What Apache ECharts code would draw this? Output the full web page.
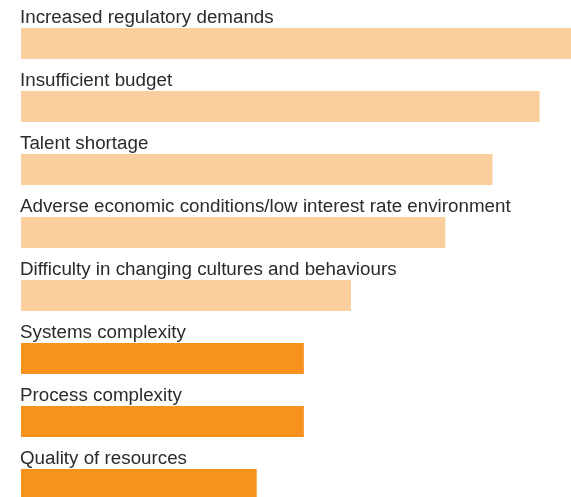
<!DOCTYPE html>
<html>
<head>
<meta charset="utf-8">
<script src="https://cdn.jsdelivr.net/npm/echarts@6/dist/echarts.min.js"></script>
<style>
html,body{margin:0;padding:0;background:#fff;}
#chart{width:571px;height:497px;}
</style>
</head>
<body>
<div id="chart"></div>
<script>
const categories = [
  "Increased regulatory demands",
  "Insufficient budget",
  "Talent shortage",
  "Adverse economic conditions/low interest rate environment",
  "Difficulty in changing cultures and behaviours",
  "Systems complexity",
  "Process complexity",
  "Quality of resources"
];
const values = [35, 33, 30, 27, 21, 18, 18, 15];
const highlighted = [false, false, false, false, false, true, true, true];
const lightColor = "#FBCE9E";
const darkColor = "#F7921F";

const chart = echarts.init(document.getElementById('chart'), null, {renderer: 'canvas'});
chart.setOption({
  animation: false,
  grid: {left: 21, right: 0, top: 12, bottom: -19, containLabel: false, outerBoundsMode: 'none'},
  xAxis: {type: 'value', min: 0, max: 35, show: false},
  yAxis: {type: 'category', data: categories, inverse: true, show: false},
  series: [{
    type: 'bar',
    barWidth: 31,
    data: values.map((v, i) => ({value: v, itemStyle: {color: highlighted[i] ? darkColor : lightColor}})),
    label: {
      show: true,
      formatter: '{b}',
      position: [-1, -1],
      verticalAlign: 'bottom',
      align: 'left',
      fontFamily: 'Liberation Sans, Arial, sans-serif',
      fontSize: 18.8,
      lineHeight: 19,
      color: '#2b2b2b'
    }
  }]
});
</script>
</body>
</html>
